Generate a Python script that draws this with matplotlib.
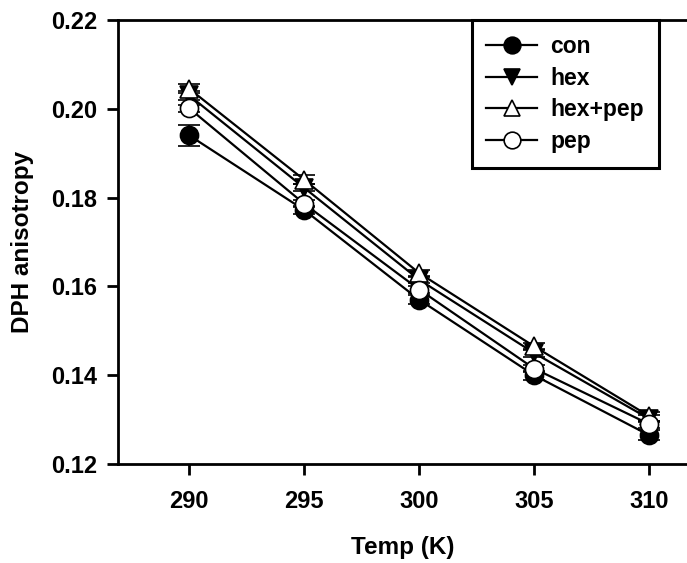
import numpy as np
import matplotlib.pyplot as plt
from matplotlib.lines import Line2D

plt.rcParams['font.family'] = ['Liberation Sans', 'DejaVu Sans']
plt.rcParams['font.weight'] = 'bold'

temp = [290, 295, 300, 305, 310]

# DPH anisotropy
con = [0.1940, 0.1772, 0.1570, 0.1400, 0.1265]
con_err = [0.0024, 0.0010, 0.0010, 0.0010, 0.0012]
hex_ = [0.2030, 0.1822, 0.1615, 0.1450, 0.1302]
hex_err = [0.0010, 0.0008, 0.0008, 0.0008, 0.0008]
hexpep = [0.2045, 0.1840, 0.1630, 0.1465, 0.1308]
hexpep_err = [0.0010, 0.0010, 0.0008, 0.0008, 0.0010]
pep = [0.2001, 0.1786, 0.1593, 0.1415, 0.1290]
pep_err = [0.0008, 0.0008, 0.0008, 0.0008, 0.0008]

fig = plt.figure(figsize=(6.87, 5.63), dpi=100)
ax = fig.add_axes([0.1718, 0.1758, 0.8282, 0.7887])

series = [
    (con, con_err, 'o', 'black', 'con'),
    (hex_, hex_err, 'v', 'black', 'hex'),
    (hexpep, hexpep_err, '^', 'white', 'hex+pep'),
    (pep, pep_err, 'o', 'white', 'pep'),
]
handles = []
for vals, err, mk, fc, lab in series:
    ax.errorbar(temp, vals, yerr=err, fmt='-', marker=mk, color='black',
                mfc=fc, mec='black', ms=13, mew=1.2, lw=1.6,
                capsize=8, capthick=2, elinewidth=1.5)
    handles.append(Line2D([], [], color='black', lw=1.6, marker=mk, mfc=fc,
                          mec='black', ms=12, mew=1.2, label=lab))

ax.set_xlim(286.9, 311.65)
ax.set_ylim(0.12, 0.22)
ax.set_xticks(temp)
ax.set_yticks(np.arange(0.12, 0.2201, 0.02))
ax.set_yticklabels(['%.2f' % v for v in np.arange(0.12, 0.2201, 0.02)])

ax.spines['right'].set_visible(False)
for s in ['left', 'bottom', 'top']:
    ax.spines[s].set_linewidth(2)
ax.tick_params(direction='out', length=8, width=2, labelsize=17)
ax.tick_params(axis='x', pad=11)
ax.tick_params(axis='y', pad=7)

ax.set_xlabel('Temp (K)', fontsize=17.5, fontweight='bold', labelpad=16)
ax.set_ylabel('DPH anisotropy', fontsize=17.5, fontweight='bold', labelpad=12)

leg = ax.legend(handles=handles, loc='upper right', bbox_to_anchor=(0.951, 1.0),
                borderaxespad=0, fontsize=16.5, frameon=True, fancybox=False,
                handlelength=2.2, labelspacing=0.38, borderpad=0.65,
                handletextpad=0.6)
leg.get_frame().set_edgecolor('black')
leg.get_frame().set_linewidth(2.2)
leg.get_frame().set_alpha(1)

fig.savefig('out.png', dpi=100)
